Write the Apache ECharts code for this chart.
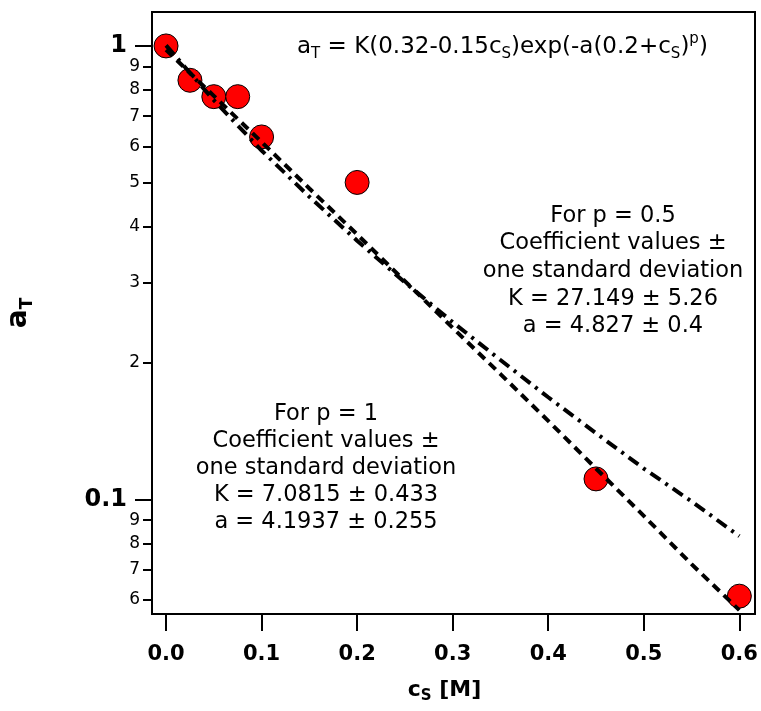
<!DOCTYPE html>
<html>
<head>
<meta charset="utf-8">
<script src="https://cdn.jsdelivr.net/npm/echarts@6/dist/echarts.min.js"></script>
<style>
  html, body { margin: 0; padding: 0; background: #fff; }
  #chart { width: 761px; height: 711px; }
</style>
</head>
<body>
<div id="chart"></div>
<script>
// measured points
const cS = [0, 0.025, 0.05, 0.075, 0.1, 0.2, 0.45, 0.6];
const aT = [1.0, 0.84, 0.773, 0.773, 0.63, 0.5, 0.111, 0.0612];

// fitted curves
const fitX = [0, 0.05, 0.1, 0.15, 0.2, 0.25, 0.3, 0.35, 0.4, 0.45, 0.5, 0.55, 0.6];
const fitP1 = [0.980, 0.776, 0.614, 0.485, 0.384, 0.303, 0.239, 0.189, 0.149, 0.117, 0.092, 0.072, 0.057];
const fitP05 = [1.003, 0.759, 0.588, 0.465, 0.372, 0.301, 0.246, 0.203, 0.168, 0.140, 0.117, 0.099, 0.083];

// ticks
const xTicks = [0, 0.1, 0.2, 0.3, 0.4, 0.5, 0.6];
const yMajorTicks = [0.1, 1];
const yMinorTicks = [0.06, 0.07, 0.08, 0.09, 0.2, 0.3, 0.4, 0.5, 0.6, 0.7, 0.8, 0.9];

const textP1 = ['For p = 1', 'Coefficient values \u00b1', 'one standard deviation', 'K = 7.0815 \u00b1 0.433', 'a = 4.1937 \u00b1 0.255'];
const textP05 = ['For p = 0.5', 'Coefficient values \u00b1', 'one standard deviation', 'K = 27.149 \u00b1 5.26', 'a = 4.827 \u00b1 0.4'];

const FONT = 'DejaVu Sans';
const yMin = 0.0559, yMax = 1.188;

const pair = (xs, ys) => xs.map((x, i) => [x, ys[i]]);

const chart = echarts.init(document.getElementById('chart'));

const option = {
  backgroundColor: '#fff',
  animation: false,
  grid: {
    left: 152, top: 12, right: 6, bottom: 97,
    outerBoundsMode: 'none', containLabel: false,
    show: true, borderColor: '#000', borderWidth: 2, backgroundColor: 'transparent'
  },
  xAxis: {
    type: 'value',
    min: -0.0147, max: 0.6164,
    name: 'c{sub|S} [M]',
    nameLocation: 'middle',
    nameGap: 62,
    nameTextStyle: {
      fontFamily: FONT, fontWeight: 'bold', fontSize: 22, color: '#000',
      lineHeight: 28, padding: [0, 18, 0, 0],
      rich: {
        sub: { fontFamily: FONT, fontSize: 15, verticalAlign: 'bottom', lineHeight: 15, color: '#000' }
      }
    },
    axisLine: { onZero: false, lineStyle: { color: '#000', width: 2 } },
    axisTick: { customValues: xTicks, length: 17, lineStyle: { color: '#000', width: 2 } },
    axisLabel: {
      customValues: xTicks, margin: 30,
      fontFamily: FONT, fontWeight: 'bold', fontSize: 21, color: '#000',
      formatter: v => v.toFixed(1)
    },
    splitLine: { show: false }
  },
  yAxis: [
    {
      type: 'log', min: yMin, max: yMax,
      name: 'a{sub|T}',
      nameLocation: 'middle',
      nameRotate: 90,
      nameGap: 116,
      nameTextStyle: {
        fontFamily: FONT, fontWeight: 'bold', fontSize: 28, color: '#000',
        lineHeight: 34,
        rich: {
          sub: { fontFamily: FONT, fontSize: 17, verticalAlign: 'bottom', lineHeight: 17, color: '#000' }
        }
      },
      axisLine: { show: true, onZero: false, lineStyle: { color: '#000', width: 2 } },
      axisTick: { show: true, customValues: yMajorTicks, length: 17, lineStyle: { color: '#000', width: 2 } },
      axisLabel: {
        customValues: yMajorTicks, margin: 25,
        fontFamily: FONT, fontWeight: 'bold', fontSize: 24, color: '#000',
        formatter: v => String(v)
      },
      splitLine: { show: false }
    },
    {
      type: 'log', min: yMin, max: yMax, position: 'left', offset: 0,
      axisLine: { show: false, onZero: false },
      axisTick: { show: true, customValues: yMinorTicks, length: 9, lineStyle: { color: '#000', width: 2 } },
      axisLabel: {
        customValues: yMinorTicks, margin: 12,
        fontFamily: FONT, fontSize: 17, color: '#000',
        formatter: v => String(Math.round(v / Math.pow(10, Math.floor(Math.log10(v) + 1e-9))))
      },
      splitLine: { show: false }
    }
  ],
  series: [
    {
      type: 'scatter',
      data: pair(cS, aT),
      symbol: 'circle',
      symbolSize: 24,
      itemStyle: { color: '#ff0000', opacity: 1, borderColor: '#000', borderWidth: 1 },
      z: 2
    },
    {
      type: 'line',
      data: pair(fitX, fitP1),
      showSymbol: false,
      lineStyle: { color: '#000', width: 4, type: [9, 6], cap: 'butt' },
      z: 3
    },
    {
      type: 'line',
      data: pair(fitX, fitP05),
      showSymbol: false,
      lineStyle: { color: '#000', width: 4, type: [12, 6, 3, 6], cap: 'butt' },
      z: 3
    }
  ],
  graphic: [
    {
      type: 'text', left: 297, top: 32,
      style: {
        text: 'a{sub|T} = K(0.32-0.15c{sub|S})exp(-a(0.2+c{sub|S}){sup|p})',
        fontFamily: FONT, fontSize: 23, fill: '#000', lineHeight: 30,
        rich: {
          sub: { fontFamily: FONT, fontSize: 15, verticalAlign: 'bottom', lineHeight: 15, fill: '#000' },
          sup: { fontFamily: FONT, fontSize: 15, verticalAlign: 'top', lineHeight: 15, fill: '#000' }
        }
      }
    },
    {
      type: 'text', x: 613, y: 202,
      style: {
        text: textP05.join('\n'), fontFamily: FONT, fontSize: 22.5, fill: '#000',
        lineHeight: 27.7, align: 'center', textAlign: 'center', verticalAlign: 'top'
      }
    },
    {
      type: 'text', x: 326, y: 401,
      style: {
        text: textP1.join('\n'), fontFamily: FONT, fontSize: 22.5, fill: '#000',
        lineHeight: 27, align: 'center', textAlign: 'center', verticalAlign: 'top'
      }
    }
  ]
};

chart.setOption(option);
</script>
</body>
</html>
